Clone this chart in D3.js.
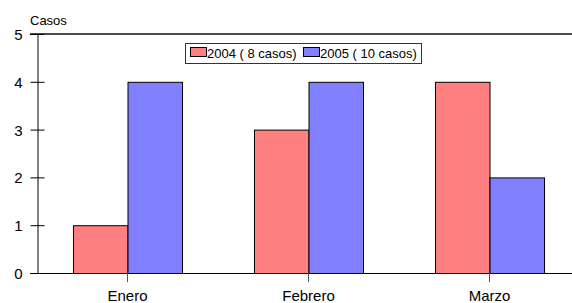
<!DOCTYPE html>
<html><head><meta charset="utf-8">
<script src="https://cdn.jsdelivr.net/npm/d3@7"></script>
<style>body{margin:0;background:#fff}svg{display:block}text{font-family:"Liberation Sans",Arial,sans-serif;fill:#000}</style>
</head><body><svg id="c" width="572" height="303"></svg>
<script>
const categories = ["Enero", "Febrero", "Marzo"];
const series = ["2004 ( 8 casos)", "2005 ( 10 casos)"];
const values2004 = [1, 3, 4];
const values2005 = [4, 4, 2];
const yTicks = [0, 1, 2, 3, 4, 5];
const colors = ["#ff8080", "#8080ff"];

(function(){
const svg = d3.select("#c");
const mLeft = 37, mRight = 580, mTop = 34, mBottom = 273;
const x = d3.scaleBand().domain(categories).range([mLeft, mRight]).paddingInner(0).paddingOuter(0);
const inner = d3.scaleBand().domain([0, 1]).range([0, x.bandwidth()]).paddingOuter(0.66).paddingInner(0);
const y = d3.scaleLinear().domain([0, 5]).range([mBottom, mTop]);

svg.append("line").attr("x1", 30).attr("x2", 572).attr("y1", y(5)).attr("y2", y(5)).attr("stroke", "#111").attr("stroke-width", 1.5);

const data = [values2004, values2005];
data.forEach((vals, s) => {
  svg.append("g").selectAll("rect").data(vals).join("rect")
    .attr("x", (d, i) => x(categories[i]) + inner(s) + 0.5)
    .attr("y", d => y(d) + 0.5)
    .attr("width", inner.bandwidth())
    .attr("height", d => y(0) - y(d))
    .attr("fill", colors[s])
    .attr("stroke", "#000").attr("stroke-width", 1);
});

svg.append("line").attr("x1", 30).attr("x2", 572).attr("y1", mBottom + 0.5).attr("y2", mBottom + 0.5).attr("stroke", "#000");

const ya = svg.append("g").attr("transform", `translate(${mLeft + 0.5},0)`)
  .call(d3.axisLeft(y).tickValues(yTicks).tickFormat(d3.format("d")).tickSize(7).tickPadding(8));
ya.select(".domain").attr("stroke", "#000");
ya.selectAll(".tick line").attr("x2", 7).attr("x1", -7).attr("stroke", "#000");
ya.selectAll(".tick text").attr("font-size", 15).attr("dy", "0.36em").attr("x", -15);

const xa = svg.append("g").attr("transform", `translate(0,${mBottom})`)
  .call(d3.axisBottom(x).tickSize(9).tickPadding(10));
xa.select(".domain").remove();
xa.selectAll(".tick line").attr("stroke", "#555");
xa.selectAll(".tick text").attr("font-size", 15).attr("dy", "0.71em").attr("y", 17);

svg.append("text").attr("x", 30).attr("y", 25).attr("font-size", 13).text("Casos");

const lg = svg.append("g");
lg.append("rect").attr("x", 185.5).attr("y", 43.5).attr("width", 236).attr("height", 20).attr("fill", "#fff").attr("stroke", "#333");
const lx = [190, 303];
series.forEach((s, i) => {
  lg.append("rect").attr("x", lx[i] + 0.5).attr("y", 47.5).attr("width", 16).attr("height", 9).attr("fill", colors[i]).attr("stroke", "#000");
  lg.append("text").attr("x", lx[i] + 17).attr("y", 58).attr("font-size", 13).text(s);
});
})();
</script></body></html>
